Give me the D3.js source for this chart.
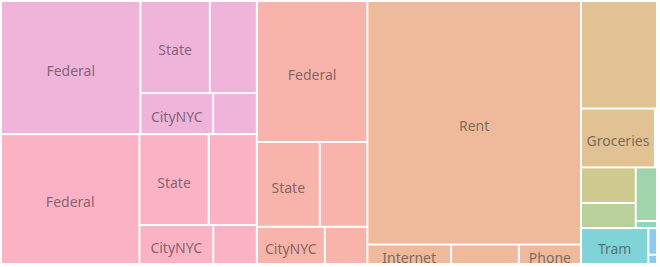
<!DOCTYPE html>
<html>
<head>
<meta charset="utf-8">
<script src="https://cdn.jsdelivr.net/npm/d3@7"></script>
<style>
    body { margin: 0; background: #fff; }
    svg { display: block; font-family: "Noto Sans", sans-serif; }
    text.label { font-size: 14px; fill: #333; fill-opacity: 0.62; }
</style>
</head>
<body>
<svg id="chart" width="660" height="267"></svg>
<script>
const WIDTH = 660;
const HEIGHT = 267;
const PAD = 2;

// monthly spending, $
const TAX_ITEMS = ["Federal", "State", "Social Security", "CityNYC", "Medicare"];
const PAYCHECK_1 = [1855, 639, 432, 299, 179];
const PAYCHECK_2 = [1796, 629, 437, 288, 170];
const PAYCHECK_3 = [1558, 534, 403, 253, 158];

const HOME_ITEMS = ["Rent", "Internet", "Con Edison", "Phone"];
const HOME = [5199, 163, 132, 121];

const FOOD_ITEMS = ["Restaurants", "Groceries", "Snacks"];
const FOOD = [817, 435, 12];

const PERSONAL_ITEMS = ["Entertainment", "Subscriptions", "Health", "Gym"];
const PERSONAL = [195, 137, 114, 15];

const TRANSIT_ITEMS = ["Tram"];
const TRANSIT = [242];
const OTHER_RIDES_ITEMS = ["Citi Bike", "Taxi"];
const OTHER_RIDES = [23, 8];

// one colour per second-level group, in data order
const PALETTE = [
    "#f0b4db", "#fbb2c5", "#f8b4aa", "#efba9c", "#e1c293", "#cec98f",
    "#b9d09a", "#a0d5ab", "#8ed6c2", "#80d3d7", "#8acbee",
];

const group = (name, items, values) => ({
    name: name,
    children: items.map((n, i) => ({ name: n, value: values[i] })),
});

const tree = {
    name: "Budget",
    children: [
        {
            name: "Taxes",
            children: [
                group("Paycheck 1", TAX_ITEMS, PAYCHECK_1),
                group("Paycheck 2", TAX_ITEMS, PAYCHECK_2),
                group("Paycheck 3", TAX_ITEMS, PAYCHECK_3),
            ],
        },
        { name: "Housing", children: [group("Home", HOME_ITEMS, HOME)] },
        { name: "Food", children: [group("Food", FOOD_ITEMS, FOOD)] },
        {
            name: "Personal",
            children: PERSONAL_ITEMS.map((n, i) => group(n, [n], [PERSONAL[i]])),
        },
        {
            name: "Transport",
            children: [
                group("Transit", TRANSIT_ITEMS, TRANSIT),
                group("Other rides", OTHER_RIDES_ITEMS, OTHER_RIDES),
            ],
        },
    ],
};

// no sort: cells keep the order of the data
const root = d3.hierarchy(tree).sum((d) => d.value || 0);

d3.treemap()
    .size([WIDTH - 3 * PAD, HEIGHT - 3 * PAD])
    .paddingInner(PAD)(root);

const sub_groups = root.descendants().filter((d) => d.depth === 2);
const color = d3
    .scaleOrdinal()
    .domain(d3.range(sub_groups.length))
    .range(PALETTE);

const groupIndex = (leaf) => sub_groups.indexOf(leaf.ancestors().find((a) => a.depth === 2));

const svg = d3.select("#chart");
const g = svg.append("g").attr("transform", `translate(${PAD},${PAD})`);

const cell = g
    .selectAll("g.cell")
    .data(root.leaves())
    .join("g")
    .attr("class", "cell")
    .attr("transform", (d) => `translate(${d.x0},${d.y0})`);

cell.append("rect")
    .attr("width", (d) => d.x1 - d.x0)
    .attr("height", (d) => d.y1 - d.y0)
    .attr("fill", (d) => color(groupIndex(d)));

cell.append("clipPath")
    .attr("id", (_, i) => `clip-${i}`)
    .append("rect")
    .attr("width", (d) => d.x1 - d.x0)
    .attr("height", (d) => d.y1 - d.y0);

cell.append("text")
    .attr("class", "label")
    .attr("clip-path", (_, i) => `url(#clip-${i})`)
    .attr("x", (d) => (d.x1 - d.x0) / 2)
    .attr("y", (d) => (d.y1 - d.y0) / 2)
    .attr("dy", "0.6em")
    .attr("text-anchor", "middle")
    .text((d) => d.data.name)
    .each(function (d) {
        // drop labels that don't fit the cell width
        if (this.getComputedTextLength() > d.x1 - d.x0 - 4) d3.select(this).remove();
    });
</script>
</body>
</html>
